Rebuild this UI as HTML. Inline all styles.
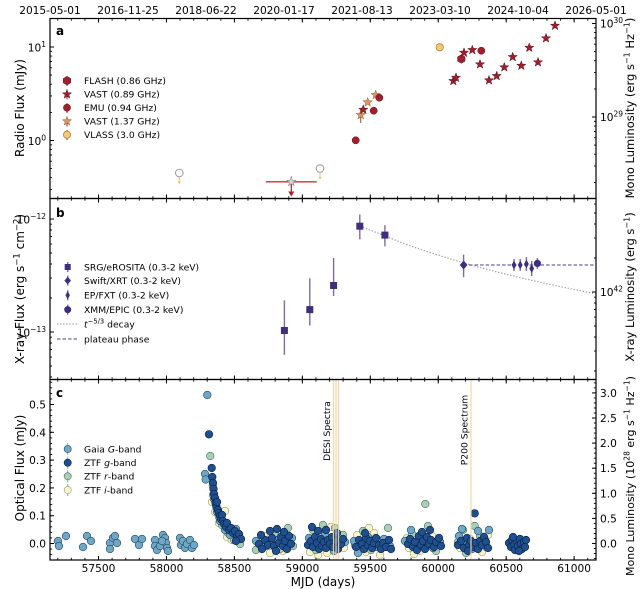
<!DOCTYPE html>
<html><head><meta charset="utf-8">
<style>
html,body{margin:0;padding:0;background:#fff}
svg{display:block}
text{font-family:"DejaVu Sans","Liberation Sans",sans-serif;fill:#000}
.tl{font-size:10.6px}
.lb{font-size:12px}
.rl{font-size:11.5px}
.lg{font-size:9.2px}
.pl{font-size:12px;font-weight:bold}
.G circle,.G{fill:#6fa7c7;stroke:#23465d;stroke-width:.6}
.g circle,.g{fill:#1f4f8e;stroke:#0b2140;stroke-width:.6}
.r circle,.r{fill:#a9cdb7;stroke:#4e6e5e;stroke-width:.6}
.i circle,.i{fill:#f7f4d0;stroke:#9d9b6b;stroke-width:.6}
.rd{fill:#a01f2f;stroke:#5a0d17;stroke-width:.5}
.tn{fill:#dd9563;stroke:#8a5830;stroke-width:.5}
.vl{fill:#f4c872;stroke:#9c7a2c;stroke-width:.7}
.pu{fill:#3f2e7e}
.eb{stroke:#7b6ca6;stroke-width:1.4;fill:none}
.tk{stroke:#000;stroke-width:.9;fill:none}
</style></head><body>
<svg width="640" height="589" viewBox="0 0 640 589" xmlns="http://www.w3.org/2000/svg">
<defs>
<pattern id="xm" x="57.3" y="0" width="13.5888" height="10" patternUnits="userSpaceOnUse"><rect width="0.9" height="10" fill="#000"/></pattern>
<pattern id="xM" x="98.02" y="0" width="67.944" height="10" patternUnits="userSpaceOnUse"><rect width="1" height="10" fill="#000"/></pattern>
<pattern id="ycm" x="0" y="543.05" width="10" height="5.56" patternUnits="userSpaceOnUse"><rect width="10" height="0.9" fill="#000"/></pattern>
<pattern id="ycM" x="0" y="543" width="10" height="27.8" patternUnits="userSpaceOnUse"><rect width="10" height="1" fill="#000"/></pattern>
<pattern id="yrm" x="0" y="543.05" width="10" height="5.02" patternUnits="userSpaceOnUse"><rect width="10" height="0.9" fill="#000"/></pattern>
<pattern id="yrM" x="0" y="543" width="10" height="25.1" patternUnits="userSpaceOnUse"><rect width="10" height="1" fill="#000"/></pattern>
<path id="st" d="M0,-4.8L1.139,-1.568L4.565,-1.483L1.843,0.599L2.821,3.883L0,1.938L-2.821,3.883L-1.843,0.599L-4.565,-1.483L-1.139,-1.568Z"/>
<path id="hx" d="M0,-4.3L3.72,-2.15L3.72,2.15L0,4.3L-3.72,2.15L-3.72,-2.15Z"/>
</defs>

<!-- ===== top date labels ===== -->
<g class="tl" text-anchor="middle">
<text x="50" y="14">2015-05-01</text>
<text x="128" y="14">2016-11-25</text>
<text x="206" y="14">2018-06-22</text>
<text x="284" y="14">2020-01-17</text>
<text x="362" y="14">2021-08-13</text>
<text x="440" y="14">2023-03-10</text>
<text x="518" y="14">2024-10-04</text>
<text x="596" y="14">2026-05-01</text>
</g>

<!-- ===== PANEL A ===== -->
<text class="pl" x="56" y="35">a</text>
<g>
<path d="M67,76v10M67,89.5v10M67,103v10M67,116.5v10M67,130v10" stroke="#a01f2f" stroke-width="1"/>
<use href="#hx" x="67" y="80.7" class="rd"/>
<use href="#st" x="67" y="94.3" class="rd"/>
<circle cx="67" cy="107.7" r="3.6" class="rd"/>
<use href="#st" x="67" y="121.2" class="tn"/>
<circle cx="67" cy="134.7" r="3.6" class="vl"/>
</g>
<g class="lg">
<text x="84" y="84">FLASH (0.86 GHz)</text>
<text x="84" y="97.6">VAST (0.89 GHz)</text>
<text x="84" y="111">EMU (0.94 GHz)</text>
<text x="84" y="124.5">VAST (1.37 GHz)</text>
<text x="84" y="138">VLASS (3.0 GHz)</text>
</g>
<path d="M179.3,177v6" stroke="#f0c060" stroke-width="1"/>
<path d="M177.6,181.5l1.7,2.5l1.7,-2.5z" fill="#f0c060"/>
<circle cx="179.3" cy="173" r="3.8" fill="#fff" stroke="#9a9a9a" stroke-width="1"/>
<path d="M320,172.5v6" stroke="#f0c060" stroke-width="1"/>
<path d="M318.3,177l1.7,2.5l1.7,-2.5z" fill="#f0c060"/>
<circle cx="320" cy="168.5" r="3.8" fill="#fff" stroke="#9a9a9a" stroke-width="1"/>
<path d="M265.8,181.8H316.7" stroke="#c8323a" stroke-width="1.3"/>
<path d="M291.3,176V187" stroke="#999" stroke-width="1"/>
<path d="M291.3,184V192" stroke="#b02030" stroke-width="1.2"/>
<path d="M288.3,191.5L294.3,191.5L291.3,196.5Z" fill="#b02030"/>
<use href="#st" x="291.3" y="181.8" fill="#d5d5d5" stroke="#8a8a8a" stroke-width=".6"/>
<path d="M360.7,108V123" stroke="#8a5830" stroke-width="1"/>
<circle cx="355.7" cy="140.3" r="3.6" class="rd"/>
<use href="#st" x="360.7" y="115" class="tn"/>
<use href="#st" x="363.3" y="109.7" class="rd"/>
<use href="#st" x="367.7" y="102.3" class="tn"/>
<circle cx="373.7" cy="110.7" r="3.6" class="rd"/>
<use href="#st" x="375.7" y="95" class="tn"/>
<circle cx="379.3" cy="97.7" r="3.6" class="rd"/>
<circle cx="439.7" cy="47.3" r="3.7" class="vl"/>
<g class="rd">
<use href="#st" x="453.3" y="81"/>
<use href="#st" x="456" y="77.7"/>
<use href="#hx" x="461.3" y="59"/>
<use href="#st" x="464" y="52.7"/>
<use href="#st" x="472.3" y="50"/>
<use href="#st" x="480" y="64.3"/>
<circle cx="481.3" cy="50.7" r="3.6"/>
<use href="#st" x="489" y="80.3"/>
<use href="#st" x="496.7" y="76"/>
<use href="#st" x="504.3" y="67.3"/>
<use href="#st" x="512.7" y="57"/>
<use href="#st" x="521.3" y="65.7"/>
<use href="#st" x="529.3" y="47.7"/>
<use href="#st" x="538" y="62.3"/>
<use href="#st" x="546" y="38.3"/>
<use href="#st" x="555" y="25.7"/>
</g>
<path class="tk" d="M50,47h4M50,140.5h4M50,189.4h2M50,177.7h2M50,168.6h2M50,161.2h2M50,155h2M50,149.6h2M50,144.8h2M50,112.4h2M50,95.9h2M50,84.2h2M50,75.1h2M50,67.8h2M50,61.5h2M50,56.1h2M50,51.3h2"/>
<path class="tk" d="M596,23.5h-4M596,117h-4M596,182.4h-2M596,165.9h-2M596,154.2h-2M596,145.1h-2M596,137.7h-2M596,131.5h-2M596,126.1h-2M596,121.3h-2M596,88.9h-2M596,72.4h-2M596,60.7h-2M596,51.6h-2M596,44.2h-2M596,38h-2M596,32.6h-2M596,27.8h-2"/>
<g class="tl" text-anchor="end">
<text x="46" y="51.5">10<tspan dy="-4.5" font-size="7.5">1</tspan></text>
<text x="46" y="145">10<tspan dy="-4.5" font-size="7.5">0</tspan></text>
</g>
<g class="tl">
<text x="600" y="27.5">10<tspan dy="-4.5" font-size="7.5">30</tspan></text>
<text x="600" y="121">10<tspan dy="-4.5" font-size="7.5">29</tspan></text>
</g>
<text class="lb" transform="translate(24,108) rotate(-90)" text-anchor="middle">Radio Flux (mJy)</text>
<text class="rl" transform="translate(634,108) rotate(-90)" text-anchor="middle">Mono Luminosity (erg s<tspan dy="-4.5" font-size="8">−1</tspan><tspan dy="4.5"> Hz</tspan><tspan dy="-4.5" font-size="8">−1</tspan><tspan dy="4.5">)</tspan></text>

<!-- ===== PANEL B ===== -->
<text class="pl" x="56" y="217">b</text>
<path class="eb" d="M67.7,262v10M67.7,275.6v10M67.7,290.2v10M67.7,304.6v10"/>
<rect x="64.7" y="264" width="6" height="6" class="pu"/>
<path d="M67.7,276.8l3.3,3.8l-3.3,3.8l-3.3,-3.8z" class="pu"/>
<path d="M67.7,291l2.2,4.2l-2.2,4.2l-2.2,-4.2z" class="pu"/>
<circle cx="67.7" cy="309.6" r="3.5" class="pu"/>
<path d="M57,324H79" stroke="#999" stroke-width="1.2" stroke-dasharray="1.3 1.8"/>
<path d="M57,339H79" stroke="#4b3b8c" stroke-width="1" stroke-dasharray="3.5 2"/>
<g class="lg">
<text x="84" y="270.3">SRG/eROSITA (0.3-2 keV)</text>
<text x="84" y="283.9">Swift/XRT (0.3-2 keV)</text>
<text x="84" y="298.5">EP/FXT (0.3-2 keV)</text>
<text x="84" y="312.9">XMM/EPIC (0.3-2 keV)</text>
<text x="84" y="327.3"><tspan font-style="italic">t</tspan><tspan dy="-4" font-size="6.8">−5/3</tspan><tspan dy="4"> decay</tspan></text>
<text x="84" y="342.3">plateau phase</text>
</g>
<path d="M360,226.2L380,234L400,242L420,249.2L440,255.7L460,261.8L480,267.5L500,272.7L520,277.6L540,282.2L560,286.6L580,290.7L596,293.9" fill="none" stroke="#999" stroke-width="1.2" stroke-dasharray="1.3 1.8"/>
<path d="M463.6,265H596" stroke="#4b3b8c" stroke-width="1" stroke-dasharray="3.5 2"/>
<path class="eb" d="M284.4,300.4V354.7M309.8,278.4V325.5M333.6,258V296M359.8,214.5V239.3M384.9,225.1V246.4M463.6,254.6V277.3M514,259V271M520.2,259V271M526.4,257V271M531.7,261V276M537.4,258V269"/>
<g class="pu">
<rect x="280.9" y="327" width="7" height="7"/>
<rect x="306.3" y="306.1" width="7" height="7"/>
<rect x="330.1" y="282" width="7" height="7"/>
<rect x="356.3" y="222.7" width="7" height="7"/>
<rect x="381.4" y="231.6" width="7" height="7"/>
<path d="M463.6,260.5l3.8,4.5l-3.8,4.5l-3.8,-4.5z"/>
<path d="M514,260.5l2.4,4.5l-2.4,4.5l-2.4,-4.5z"/>
<path d="M520.2,260.5l2.4,4.5l-2.4,4.5l-2.4,-4.5z"/>
<path d="M526.4,259.5l2.4,4.5l-2.4,4.5l-2.4,-4.5z"/>
<path d="M531.7,264l2.4,4.5l-2.4,4.5l-2.4,-4.5z"/>
<circle cx="537.4" cy="263.4" r="3.6"/>
</g>
<path class="tk" d="M50,219h4M50,332h4M50,298h2M50,278.1h2M50,264h2M50,253h2M50,244.1h2M50,236.5h2M50,230h2M50,224.2h2M50,337.2h2M50,343h2M50,349.5h2M50,357.1h2M50,366h2M50,377h2"/>
<path class="tk" d="M596,292h-4M596,258h-2M596,238.1h-2M596,224h-2M596,213h-2M596,204.1h-2M596,297.2h-2M596,303h-2M596,309.5h-2M596,317.1h-2M596,326h-2M596,337h-2M596,351.1h-2M596,371h-2"/>
<g class="tl" text-anchor="end">
<text x="46" y="223.5">10<tspan dy="-4.5" font-size="7.5">−12</tspan></text>
<text x="46" y="336.5">10<tspan dy="-4.5" font-size="7.5">−13</tspan></text>
</g>
<text class="tl" x="600" y="296">10<tspan dy="-4.5" font-size="7.5">42</tspan></text>
<text class="lb" transform="translate(24,289) rotate(-90)" text-anchor="middle">X-ray Flux (erg s<tspan dy="-4.5" font-size="8.5">−1</tspan><tspan dy="4.5"> cm</tspan><tspan dy="-4.5" font-size="8.5">−2</tspan><tspan dy="4.5">)</tspan></text>
<text class="rl" transform="translate(634,287) rotate(-90)" text-anchor="middle">X-ray Luminosity (erg s<tspan dy="-4.5" font-size="8">−1</tspan><tspan dy="4.5">)</tspan></text>

<!-- ===== PANEL C ===== -->
<text class="pl" x="56" y="397">c</text>
<path d="M67.7,443v12M67.7,456.7v12M67.7,470.3v12M67.7,484v12" stroke="#8aa" stroke-width="1"/>
<circle cx="67.7" cy="449" r="3.6" class="G"/>
<circle cx="67.7" cy="462.7" r="3.6" class="g"/>
<circle cx="67.7" cy="476.3" r="3.6" class="r"/>
<circle cx="67.7" cy="490" r="3.6" class="i"/>
<g class="lg">
<text x="84" y="452.3">Gaia <tspan font-style="italic">G</tspan>-band</text>
<text x="84" y="466">ZTF <tspan font-style="italic">g</tspan>-band</text>
<text x="84" y="479.6">ZTF <tspan font-style="italic">r</tspan>-band</text>
<text x="84" y="493.3">ZTF <tspan font-style="italic">i</tspan>-band</text>
</g>

<g class="i">
<circle cx="212" cy="502" r="3.8"/><circle cx="215" cy="512" r="3.8"/><circle cx="219" cy="523" r="3.8"/><circle cx="225" cy="511" r="3.8"/><circle cx="227" cy="537" r="3.8"/><circle cx="232" cy="540" r="3.8"/>
<circle cx="258" cy="548" r="3.8"/><circle cx="270" cy="553" r="3.8"/><circle cx="283" cy="551" r="3.8"/><circle cx="290" cy="540" r="3.8"/><circle cx="264" cy="536" r="3.8"/>
<circle cx="310" cy="552" r="3.8"/><circle cx="318" cy="555" r="3.8"/><circle cx="331" cy="527" r="3.8"/><circle cx="340" cy="540" r="3.8"/><circle cx="327" cy="553" r="3.8"/><circle cx="344" cy="548" r="3.8"/>
<circle cx="357" cy="535" r="3.8"/><circle cx="366" cy="552" r="3.8"/><circle cx="374" cy="533" r="3.8"/><circle cx="380" cy="555" r="3.8"/><circle cx="369" cy="528" r="3.8"/>
<circle cx="409" cy="548" r="3.8"/><circle cx="414" cy="554" r="3.8"/><circle cx="420" cy="551" r="3.8"/><circle cx="432" cy="536" r="3.8"/><circle cx="438" cy="545" r="3.8"/><circle cx="407" cy="538" r="3.8"/>
<circle cx="460" cy="548" r="3.8"/><circle cx="470" cy="539" r="3.8"/><circle cx="482" cy="552" r="3.8"/><circle cx="488" cy="535" r="3.8"/>
</g>
<g class="r">
<circle cx="210.3" cy="456" r="3.8"/><circle cx="212.8" cy="486" r="3.8"/>
<circle cx="213" cy="495" r="3.8"/><circle cx="216" cy="505" r="3.8"/><circle cx="219" cy="517" r="3.8"/><circle cx="222" cy="525" r="3.8"/><circle cx="228" cy="533" r="3.8"/><circle cx="234" cy="540" r="3.8"/><circle cx="240" cy="544" r="3.8"/>
<circle cx="262" cy="538" r="3.8"/><circle cx="275" cy="534" r="3.8"/><circle cx="288" cy="528" r="3.8"/><circle cx="280" cy="549" r="3.8"/><circle cx="293" cy="546" r="3.8"/><circle cx="256" cy="550" r="3.8"/>
<circle cx="313" cy="530" r="3.8"/><circle cx="323" cy="525" r="3.8"/><circle cx="335" cy="528" r="3.8"/><circle cx="343" cy="535" r="3.8"/><circle cx="316" cy="550" r="3.8"/><circle cx="329" cy="546" r="3.8"/>
<circle cx="355" cy="545" r="3.8"/><circle cx="363" cy="531" r="3.8"/><circle cx="378" cy="540" r="3.8"/><circle cx="388" cy="528" r="3.8"/><circle cx="371" cy="550" r="3.8"/>
<circle cx="425.3" cy="504" r="3.8"/><circle cx="428" cy="526" r="3.8"/><circle cx="412" cy="534" r="3.8"/><circle cx="418" cy="540" r="3.8"/><circle cx="436" cy="551" r="3.8"/>
<circle cx="474.7" cy="526" r="3.8"/><circle cx="463" cy="530" r="3.8"/><circle cx="480" cy="536" r="3.8"/><circle cx="486" cy="547" r="3.8"/><circle cx="458" cy="542" r="3.8"/><circle cx="466" cy="553" r="3.8"/>
</g>
<g class="G">
<circle cx="58" cy="541" r="3.8"/><circle cx="59" cy="546" r="3.8"/><circle cx="66" cy="536" r="3.8"/><circle cx="83" cy="547" r="3.8"/><circle cx="87" cy="536" r="3.8"/><circle cx="91" cy="541" r="3.8"/>
<circle cx="110" cy="543" r="3.8"/><circle cx="110" cy="549" r="3.8"/><circle cx="113" cy="538" r="3.8"/><circle cx="115" cy="536" r="3.8"/><circle cx="117" cy="543" r="3.8"/>
<circle cx="135" cy="539" r="3.8"/><circle cx="139" cy="545" r="3.8"/><circle cx="142" cy="539" r="3.8"/>
<circle cx="155" cy="540" r="3.8"/><circle cx="155" cy="546" r="3.8"/><circle cx="157" cy="550" r="3.8"/><circle cx="160" cy="546" r="3.8"/><circle cx="163" cy="535" r="3.8"/><circle cx="165" cy="538" r="3.8"/><circle cx="166" cy="543" r="3.8"/><circle cx="167" cy="548" r="3.8"/><circle cx="168" cy="551" r="3.8"/><circle cx="162" cy="541" r="3.8"/>
<circle cx="180" cy="538" r="3.8"/><circle cx="181" cy="545" r="3.8"/><circle cx="183" cy="541" r="3.8"/><circle cx="185" cy="548" r="3.8"/><circle cx="187" cy="544" r="3.8"/><circle cx="190" cy="540" r="3.8"/><circle cx="192" cy="548" r="3.8"/><circle cx="194" cy="545" r="3.8"/>
<circle cx="207.3" cy="395" r="3.8"/><circle cx="205" cy="474" r="3.8"/><circle cx="205.7" cy="479.5" r="3.8"/>
<circle cx="214" cy="499" r="3.8"/><circle cx="217" cy="512" r="3.8"/><circle cx="220" cy="521" r="3.8"/><circle cx="225" cy="530" r="3.8"/><circle cx="230" cy="535" r="3.8"/><circle cx="236" cy="529" r="3.8"/>
<circle cx="256" cy="541" r="3.8"/><circle cx="266" cy="546" r="3.8"/><circle cx="278" cy="540" r="3.8"/><circle cx="286" cy="545" r="3.8"/><circle cx="292" cy="538" r="3.8"/><circle cx="271" cy="543" r="3.8"/>
<circle cx="309" cy="538" r="3.8"/><circle cx="320" cy="544" r="3.8"/><circle cx="334" cy="551" r="3.8"/><circle cx="339" cy="545" r="3.8"/><circle cx="325" cy="535" r="3.8"/><circle cx="345" cy="542" r="3.8"/>
<circle cx="354" cy="541" r="3.8"/><circle cx="361" cy="548" r="3.8"/><circle cx="368" cy="537" r="3.8"/><circle cx="376" cy="547" r="3.8"/><circle cx="384" cy="539" r="3.8"/><circle cx="390" cy="546" r="3.8"/><circle cx="358" cy="553" r="3.8"/>
<circle cx="405" cy="541" r="3.8"/><circle cx="416" cy="545" r="3.8"/><circle cx="424" cy="538" r="3.8"/><circle cx="433" cy="548" r="3.8"/><circle cx="440" cy="542" r="3.8"/><circle cx="411" cy="530" r="3.8"/>
<circle cx="459" cy="536" r="3.8"/><circle cx="465" cy="544" r="3.8"/><circle cx="472" cy="549" r="3.8"/><circle cx="478" cy="531" r="3.8"/><circle cx="485" cy="540" r="3.8"/><circle cx="489" cy="530" r="3.8"/><circle cx="462" cy="529" r="3.8"/>
</g>
<g class="g">
<circle cx="209" cy="434.3" r="3.8"/><circle cx="211.7" cy="468" r="3.8"/><circle cx="212.3" cy="477" r="3.8"/>
<circle cx="213" cy="483" r="3.8"/><circle cx="213.5" cy="489" r="3.8"/><circle cx="214" cy="494" r="3.8"/><circle cx="215" cy="498" r="3.8"/><circle cx="215.5" cy="503" r="3.8"/><circle cx="216.5" cy="507" r="3.8"/><circle cx="217" cy="502" r="3.8"/><circle cx="218" cy="510" r="3.8"/><circle cx="219" cy="513" r="3.8"/><circle cx="220" cy="516" r="3.8"/><circle cx="221" cy="519" r="3.8"/><circle cx="222" cy="515" r="3.8"/><circle cx="223" cy="521" r="3.8"/><circle cx="224" cy="524" r="3.8"/><circle cx="226" cy="527" r="3.8"/><circle cx="227" cy="523" r="3.8"/><circle cx="229" cy="530" r="3.8"/><circle cx="231" cy="528" r="3.8"/><circle cx="233" cy="533" r="3.8"/><circle cx="235" cy="531" r="3.8"/><circle cx="237" cy="537" r="3.8"/><circle cx="239" cy="534" r="3.8"/><circle cx="241" cy="539" r="3.8"/><circle cx="236" cy="541" r="3.8"/>
<circle cx="259" cy="544" r="3.8"/><circle cx="262" cy="549" r="3.8"/><circle cx="265" cy="540" r="3.8"/><circle cx="268" cy="545" r="3.8"/><circle cx="272" cy="538" r="3.8"/><circle cx="274" cy="546" r="3.8"/><circle cx="276" cy="551" r="3.8"/><circle cx="279" cy="543" r="3.8"/><circle cx="281" cy="537" r="3.8"/><circle cx="283" cy="546" r="3.8"/><circle cx="285" cy="541" r="3.8"/><circle cx="287" cy="549" r="3.8"/><circle cx="289" cy="536" r="3.8"/><circle cx="291" cy="544" r="3.8"/><circle cx="270" cy="531" r="3.8"/><circle cx="277" cy="529" r="3.8"/><circle cx="261" cy="535" r="3.8"/><circle cx="284" cy="532" r="3.8"/>
<circle cx="308" cy="545" r="3.8"/><circle cx="311" cy="541" r="3.8"/><circle cx="313" cy="547" r="3.8"/><circle cx="315" cy="537" r="3.8"/><circle cx="317" cy="543" r="3.8"/><circle cx="319" cy="549" r="3.8"/><circle cx="321" cy="539" r="3.8"/><circle cx="322" cy="546" r="3.8"/><circle cx="324" cy="542" r="3.8"/><circle cx="326" cy="548" r="3.8"/><circle cx="328" cy="540" r="3.8"/><circle cx="330" cy="544" r="3.8"/><circle cx="332" cy="537" r="3.8"/><circle cx="333" cy="547" r="3.8"/><circle cx="336" cy="541" r="3.8"/><circle cx="338" cy="549" r="3.8"/><circle cx="341" cy="544" r="3.8"/><circle cx="343" cy="539" r="3.8"/><circle cx="312" cy="527" r="3.8"/><circle cx="318" cy="531" r="3.8"/><circle cx="326" cy="530" r="3.8"/><circle cx="337" cy="533" r="3.8"/>
<circle cx="356" cy="547" r="3.8"/><circle cx="359" cy="540" r="3.8"/><circle cx="362" cy="544" r="3.8"/><circle cx="364" cy="549" r="3.8"/><circle cx="366" cy="538" r="3.8"/><circle cx="368" cy="545" r="3.8"/><circle cx="370" cy="541" r="3.8"/><circle cx="372" cy="548" r="3.8"/><circle cx="374" cy="543" r="3.8"/><circle cx="376" cy="538" r="3.8"/><circle cx="379" cy="545" r="3.8"/><circle cx="381" cy="549" r="3.8"/><circle cx="383" cy="543" r="3.8"/><circle cx="386" cy="547" r="3.8"/><circle cx="389" cy="540" r="3.8"/><circle cx="391" cy="549" r="3.8"/><circle cx="365" cy="533" r="3.8"/>
<circle cx="408" cy="544" r="3.8"/><circle cx="410" cy="539" r="3.8"/><circle cx="413" cy="547" r="3.8"/><circle cx="415" cy="542" r="3.8"/><circle cx="417" cy="550" r="3.8"/><circle cx="419" cy="536" r="3.8"/><circle cx="421" cy="545" r="3.8"/><circle cx="423" cy="541" r="3.8"/><circle cx="425" cy="549" r="3.8"/><circle cx="427" cy="537" r="3.8"/><circle cx="429" cy="544" r="3.8"/><circle cx="431" cy="540" r="3.8"/><circle cx="434" cy="547" r="3.8"/><circle cx="436" cy="542" r="3.8"/><circle cx="439" cy="538" r="3.8"/><circle cx="441" cy="546" r="3.8"/><circle cx="422" cy="532" r="3.8"/><circle cx="430" cy="530" r="3.8"/>
<circle cx="474.7" cy="513.3" r="3.8"/><circle cx="458" cy="545" r="3.8"/><circle cx="461" cy="541" r="3.8"/><circle cx="464" cy="548" r="3.8"/><circle cx="467" cy="538" r="3.8"/><circle cx="469" cy="545" r="3.8"/><circle cx="471" cy="541" r="3.8"/><circle cx="473" cy="547" r="3.8"/><circle cx="476" cy="543" r="3.8"/><circle cx="478" cy="549" r="3.8"/><circle cx="480" cy="541" r="3.8"/><circle cx="482" cy="545" r="3.8"/><circle cx="484" cy="537" r="3.8"/><circle cx="486" cy="542" r="3.8"/><circle cx="488" cy="548" r="3.8"/><circle cx="468" cy="551" r="3.8"/>
<circle cx="509" cy="543" r="3.8"/><circle cx="511" cy="547" r="3.8"/><circle cx="512" cy="540" r="3.8"/><circle cx="514" cy="545" r="3.8"/><circle cx="515" cy="550" r="3.8"/><circle cx="517" cy="541" r="3.8"/><circle cx="518" cy="546" r="3.8"/><circle cx="520" cy="539" r="3.8"/><circle cx="521" cy="544" r="3.8"/><circle cx="522" cy="549" r="3.8"/><circle cx="524" cy="542" r="3.8"/><circle cx="525" cy="547" r="3.8"/><circle cx="526" cy="540" r="3.8"/><circle cx="513" cy="537" r="3.8"/><circle cx="519" cy="551" r="3.8"/>
</g>
<path d="M333.5,379.5V560M336,379.5V560M338.5,379.5V560M471,379.5V560" stroke="#f2d7a2" stroke-width="1.3" opacity="0.9"/>
<text transform="translate(330,431) rotate(-90)" text-anchor="middle" font-size="9.2">DESI Spectra</text>
<text transform="translate(467.5,430) rotate(-90)" text-anchor="middle" font-size="9.2">P200 Spectrum</text>

<rect x="50" y="379.5" width="2.2" height="180.5" fill="url(#ycm)"/>
<rect x="50" y="379.5" width="4" height="180.5" fill="url(#ycM)"/>
<rect x="593.8" y="379.5" width="2.2" height="180.5" fill="url(#yrm)"/>
<rect x="592" y="379.5" width="4" height="180.5" fill="url(#yrM)"/>
<g class="tl" text-anchor="end">
<text x="46" y="408.5">0.5</text>
<text x="46" y="436.3">0.4</text>
<text x="46" y="464.1">0.3</text>
<text x="46" y="491.9">0.2</text>
<text x="46" y="519.7">0.1</text>
<text x="46" y="547.5">0.0</text>
</g>
<g class="tl">
<text x="600" y="397">3.0</text>
<text x="600" y="422">2.5</text>
<text x="600" y="447.1">2.0</text>
<text x="600" y="472.2">1.5</text>
<text x="600" y="497.3">1.0</text>
<text x="600" y="522.4">0.5</text>
<text x="600" y="547.5">0.0</text>
</g>
<text class="lb" transform="translate(24,468) rotate(-90)" text-anchor="middle">Optical Flux (mJy)</text>
<text transform="translate(634,476) rotate(-90)" text-anchor="middle" font-size="11">Mono Luminosity (10<tspan dy="-4.3" font-size="7.6">28</tspan><tspan dy="4.3"> erg s</tspan><tspan dy="-4.3" font-size="7.6">−1</tspan><tspan dy="4.3"> Hz</tspan><tspan dy="-4.3" font-size="7.6">−1</tspan><tspan dy="4.3">)</tspan></text>

<g class="tl" text-anchor="middle">
<text x="98.5" y="572">57500</text>
<text x="166.5" y="572">58000</text>
<text x="234.4" y="572">58500</text>
<text x="302.4" y="572">59000</text>
<text x="370.3" y="572">59500</text>
<text x="438.2" y="572">60000</text>
<text x="506.2" y="572">60500</text>
<text x="574.1" y="572">61000</text>
</g>
<text class="lb" x="323" y="586" text-anchor="middle">MJD (days)</text>

<rect x="50" y="18.5" width="546" height="2.2" fill="url(#xm)"/>
<rect x="50" y="18.5" width="546" height="4" fill="url(#xM)"/>
<rect x="50" y="196.3" width="546" height="4.4" fill="url(#xm)"/>
<rect x="50" y="194.5" width="546" height="8" fill="url(#xM)"/>
<rect x="50" y="377.3" width="546" height="4.4" fill="url(#xm)"/>
<rect x="50" y="375.5" width="546" height="8" fill="url(#xM)"/>
<rect x="50" y="557.8" width="546" height="2.2" fill="url(#xm)"/>
<rect x="50" y="556" width="546" height="4" fill="url(#xM)"/>

<rect x="50" y="18.5" width="546" height="180" fill="none" stroke="#000" stroke-width="1.2"/>
<rect x="50" y="198.5" width="546" height="181" fill="none" stroke="#000" stroke-width="1.2"/>
<rect x="50" y="379.5" width="546" height="180.5" fill="none" stroke="#000" stroke-width="1.2"/>
</svg>
</body></html>
